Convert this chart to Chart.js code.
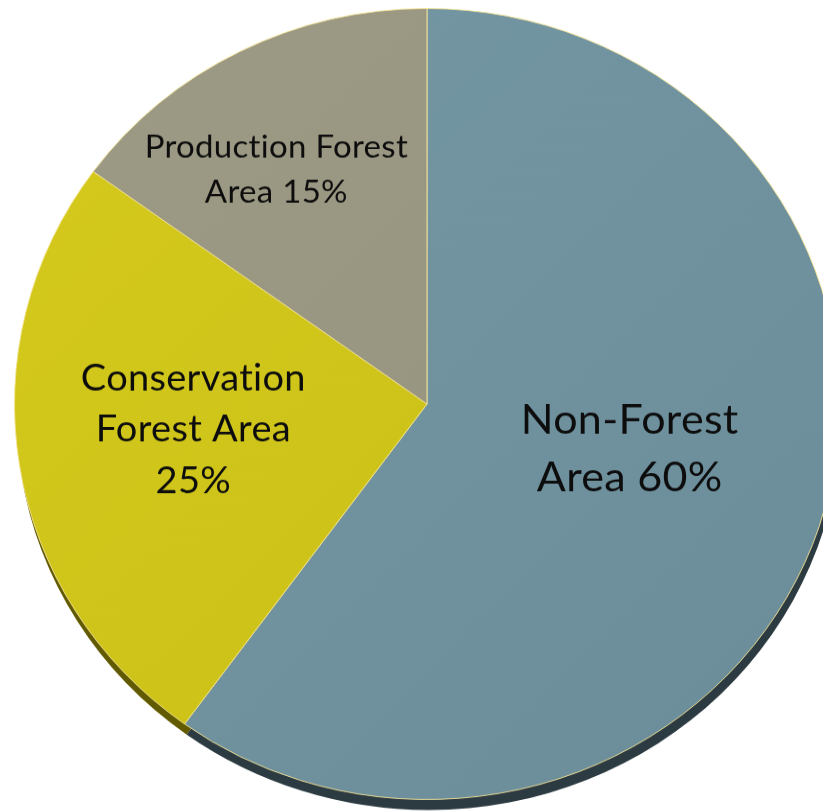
<!DOCTYPE html>
<html>
<head>
<meta charset="utf-8">
<script src="https://cdn.jsdelivr.net/npm/chart.js@4/dist/chart.umd.min.js"></script>
<style>
  html, body { margin: 0; padding: 0; background: #ffffff; overflow: hidden; width: 823px; height: 812px; }
  #wrap { position: absolute; left: 0; top: 8px; width: 854px; height: 840px;
          transform: scaleY(0.9588); transform-origin: 0 0; }
</style>
</head>
<body>
<div id="wrap"><canvas id="c"></canvas></div>
<script>
// ---- data ----
const categories = ["Non-Forest Area", "Conservation Forest Area", "Production Forest Area"];
const shares = [60, 25, 15];
const labelLines = [
  ["Non-Forest", "Area 60%"],
  ["Conservation", "Forest Area", "25%"],
  ["Production Forest", "Area 15%"]
];

// ---- styles ----
const faceColors = [
  ["#7598a5", "#6b8d99"],
  ["#d5ca1c", "#c8bd16"],
  ["#9d9a85", "#94917d"]
];
const edgeColors = ["#2c3a41", "#625a00", "#4d4b40"];
const labelStyle = [
  { r: 0.504, da: -5.1, size: 43, lh: 59.4 },
  { r: 0.570, da: 2.6, size: 38, lh: 53.7 },
  { r: 0.697, da: -4.6, size: 33, lh: 46.9 }
];

const edgePlugin = {
  id: 'edge3d',
  beforeDatasetsDraw(chart) {
    const ctx = chart.ctx;
    const meta = chart.getDatasetMeta(0);
    meta.data.forEach((arc, i) => {
      const p = arc.getProps(['x', 'y', 'startAngle', 'endAngle', 'outerRadius'], true);
      ctx.save();
      ctx.translate(2, 11);
      ctx.beginPath();
      ctx.moveTo(p.x, p.y);
      ctx.arc(p.x, p.y, p.outerRadius, p.startAngle, p.endAngle);
      ctx.closePath();
      ctx.fillStyle = edgeColors[i];
      ctx.fill();
      ctx.restore();
    });
  }
};

const labelPlugin = {
  id: 'sliceLabels',
  afterDatasetsDraw(chart) {
    const ctx = chart.ctx;
    const meta = chart.getDatasetMeta(0);
    meta.data.forEach((arc, i) => {
      const p = arc.getProps(['x', 'y', 'startAngle', 'endAngle', 'outerRadius'], true);
      const st = labelStyle[i];
      const mid = (p.startAngle + p.endAngle) / 2 + st.da * Math.PI / 180;
      const cx = p.x + Math.cos(mid) * p.outerRadius * st.r;
      const cy = p.y + Math.sin(mid) * p.outerRadius * st.r;
      const lines = labelLines[i];
      ctx.save();
      ctx.fillStyle = "#0d0d0d";
      ctx.font = st.size + "px Lato";
      try { ctx.textRendering = "optimizeSpeed"; } catch (e) {}
      try { ctx.letterSpacing = "0.3px"; } catch (e) {}
      ctx.textAlign = "center";
      ctx.textBaseline = "middle";
      const y0 = cy - (lines.length - 1) * st.lh / 2;
      lines.forEach((t, k) => ctx.fillText(t, cx, y0 + k * st.lh + st.size * 0.02));
      ctx.restore();
    });
  }
};

new Chart(document.getElementById('c'), {
  type: 'pie',
  data: {
    labels: categories,
    datasets: [{
      data: shares,
      backgroundColor: (context) => {
        const chart = context.chart;
        const area = chart.chartArea;
        const c = faceColors[context.dataIndex % faceColors.length];
        if (!area) return c[0];
        const g = chart.ctx.createLinearGradient(area.left, area.top, area.right, area.bottom);
        g.addColorStop(0, c[0]);
        g.addColorStop(1, c[1]);
        return g;
      },
      borderColor: "rgba(245,228,150,0.9)",
      borderWidth: 1
    }]
  },
  options: {
    responsive: true,
    maintainAspectRatio: false,
    animation: false,
    layout: { padding: { bottom: 14 } },
    plugins: {
      legend: { display: false },
      tooltip: { enabled: false }
    }
  },
  plugins: [edgePlugin, labelPlugin]
});
</script>
</body>
</html>
